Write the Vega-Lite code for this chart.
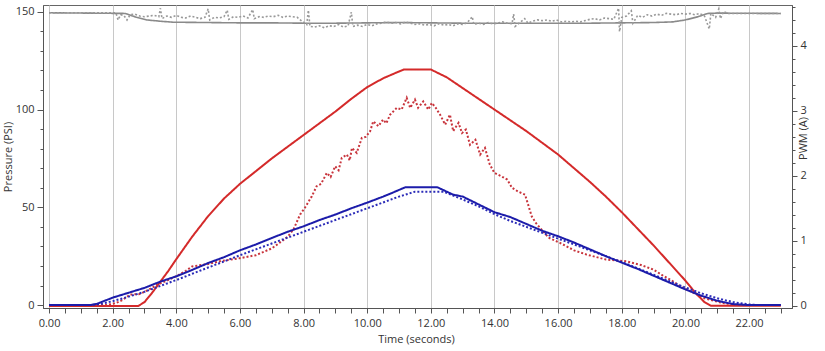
{
"$schema":"https://vega.github.io/schema/vega-lite/v6.json",
"width":749,"height":303,
"autosize":{"type":"none"},
"padding":{"left":43,"top":5,"right":33,"bottom":43},
"background":"white",
"config":{
 "view":{"stroke":"#666","strokeWidth":1},
 "axis":{"labelFont":"Open Sans","labelFontSize":11,"labelColor":"#333","titleFont":"Open Sans","titleFontSize":11,"titleFontWeight":"normal","titleColor":"#333","domainColor":"#555","tickColor":"#555","labelOverlap":false,"labelFlush":false}
},
"datasets":{
"pressure":[
{"s":"rs","t":0,"p":-0.5},{"s":"rs","t":2.8,"p":-0.5},{"s":"rs","t":3.0,"p":1.5},{"s":"rs","t":3.25,"p":6.5},{"s":"rs","t":3.5,"p":12},{"s":"rs","t":3.75,"p":17.5},{"s":"rs","t":4,"p":23.5},{"s":"rs","t":4.5,"p":35},{"s":"rs","t":5,"p":45.5},{"s":"rs","t":5.5,"p":54.5},{"s":"rs","t":6,"p":62},{"s":"rs","t":6.5,"p":68.5},{"s":"rs","t":7,"p":75},{"s":"rs","t":7.5,"p":81},{"s":"rs","t":8,"p":87},{"s":"rs","t":8.5,"p":93},{"s":"rs","t":9,"p":99},{"s":"rs","t":9.5,"p":105.5},{"s":"rs","t":10,"p":111.5},{"s":"rs","t":10.5,"p":116},{"s":"rs","t":11,"p":119.5},{"s":"rs","t":11.15,"p":120.5},{"s":"rs","t":12.0,"p":120.5},{"s":"rs","t":12.5,"p":116.5},{"s":"rs","t":13,"p":111},{"s":"rs","t":13.5,"p":105.5},{"s":"rs","t":14,"p":100},{"s":"rs","t":14.5,"p":94.5},{"s":"rs","t":15,"p":89},{"s":"rs","t":15.5,"p":83},{"s":"rs","t":16,"p":77},{"s":"rs","t":16.5,"p":70},{"s":"rs","t":17,"p":63},{"s":"rs","t":17.5,"p":55.5},{"s":"rs","t":18,"p":47.5},{"s":"rs","t":18.5,"p":39},{"s":"rs","t":19,"p":30.5},{"s":"rs","t":19.5,"p":21.5},{"s":"rs","t":20,"p":12.5},{"s":"rs","t":20.3,"p":6.5},{"s":"rs","t":20.6,"p":1.5},{"s":"rs","t":20.8,"p":-0.3},{"s":"rs","t":23,"p":-0.3},
{"s":"rd","t":0,"p":0},{"s":"rd","t":1.8,"p":0},{"s":"rd","t":2.1,"p":1},{"s":"rd","t":2.3,"p":2.5},{"s":"rd","t":2.55,"p":5.4},{"s":"rd","t":2.85,"p":5.6},{"s":"rd","t":3.15,"p":8},{"s":"rd","t":3.4,"p":10.5},{"s":"rd","t":3.7,"p":12.5},{"s":"rd","t":4,"p":14.8},{"s":"rd","t":4.3,"p":17.5},{"s":"rd","t":4.5,"p":19.8},{"s":"rd","t":4.8,"p":20.5},{"s":"rd","t":5.0,"p":21},{"s":"rd","t":5.4,"p":22.5},{"s":"rd","t":5.8,"p":23.5},{"s":"rd","t":6.0,"p":24},{"s":"rd","t":6.5,"p":25.5},{"s":"rd","t":7.0,"p":29},{"s":"rd","t":7.3,"p":32.5},{"s":"rd","t":7.5,"p":35},{"s":"rd","t":7.68,"p":38.6},{"s":"rd","t":7.89,"p":46.3},{"s":"rd","t":8.05,"p":50},{"s":"rd","t":8.26,"p":55.7},{"s":"rd","t":8.41,"p":60.8},{"s":"rd","t":8.55,"p":62},{"s":"rd","t":8.73,"p":67.6},{"s":"rd","t":8.85,"p":65.5},{"s":"rd","t":8.99,"p":71},{"s":"rd","t":9.1,"p":69},{"s":"rd","t":9.2,"p":75.3},{"s":"rd","t":9.36,"p":77},{"s":"rd","t":9.45,"p":74},{"s":"rd","t":9.52,"p":80.4},{"s":"rd","t":9.67,"p":77.9},{"s":"rd","t":9.83,"p":85.5},{"s":"rd","t":9.95,"p":86},{"s":"rd","t":10.09,"p":88.9},{"s":"rd","t":10.19,"p":94},{"s":"rd","t":10.35,"p":91.5},{"s":"rd","t":10.5,"p":94.9},{"s":"rd","t":10.6,"p":93},{"s":"rd","t":10.72,"p":97.4},{"s":"rd","t":10.93,"p":100.9},{"s":"rd","t":11.08,"p":100},{"s":"rd","t":11.24,"p":106},{"s":"rd","t":11.35,"p":100.9},{"s":"rd","t":11.5,"p":105.1},{"s":"rd","t":11.6,"p":100.9},{"s":"rd","t":11.76,"p":104.2},{"s":"rd","t":11.92,"p":100},{"s":"rd","t":12.03,"p":103.4},{"s":"rd","t":12.15,"p":101},{"s":"rd","t":12.29,"p":97.4},{"s":"rd","t":12.45,"p":92.3},{"s":"rd","t":12.6,"p":97.4},{"s":"rd","t":12.7,"p":89},{"s":"rd","t":12.87,"p":93.2},{"s":"rd","t":12.98,"p":88},{"s":"rd","t":13.1,"p":89.8},{"s":"rd","t":13.23,"p":82},{"s":"rd","t":13.4,"p":84.6},{"s":"rd","t":13.55,"p":77},{"s":"rd","t":13.7,"p":80.4},{"s":"rd","t":13.85,"p":72},{"s":"rd","t":14.0,"p":67.6},{"s":"rd","t":14.2,"p":66},{"s":"rd","t":14.4,"p":64.2},{"s":"rd","t":14.55,"p":60},{"s":"rd","t":14.75,"p":58},{"s":"rd","t":14.96,"p":56.5},{"s":"rd","t":15.17,"p":45.4},{"s":"rd","t":15.3,"p":42},{"s":"rd","t":15.48,"p":38.6},{"s":"rd","t":15.7,"p":34.5},{"s":"rd","t":16.06,"p":31.8},{"s":"rd","t":16.5,"p":28},{"s":"rd","t":16.9,"p":25.8},{"s":"rd","t":17.5,"p":23.3},{"s":"rd","t":18.15,"p":22.4},{"s":"rd","t":18.6,"p":20.5},{"s":"rd","t":18.99,"p":18.2},{"s":"rd","t":19.3,"p":15},{"s":"rd","t":19.6,"p":12.2},{"s":"rd","t":19.9,"p":9},{"s":"rd","t":20.24,"p":6.4},{"s":"rd","t":20.6,"p":3.5},{"s":"rd","t":21.1,"p":1.3},{"s":"rd","t":21.5,"p":0.2},{"s":"rd","t":21.7,"p":0},{"s":"rd","t":23,"p":0},
{"s":"bd","t":0,"p":0},{"s":"bd","t":1.3,"p":0},{"s":"bd","t":1.6,"p":0.5},{"s":"bd","t":2,"p":2},{"s":"bd","t":2.5,"p":4.3},{"s":"bd","t":3,"p":6.8},{"s":"bd","t":3.5,"p":9.8},{"s":"bd","t":4,"p":12.8},{"s":"bd","t":4.5,"p":16},{"s":"bd","t":5,"p":19.2},{"s":"bd","t":5.5,"p":22.3},{"s":"bd","t":6,"p":25.5},{"s":"bd","t":6.5,"p":28.5},{"s":"bd","t":7,"p":31.5},{"s":"bd","t":7.5,"p":34.5},{"s":"bd","t":8,"p":37.5},{"s":"bd","t":8.5,"p":40.5},{"s":"bd","t":9,"p":43.5},{"s":"bd","t":9.5,"p":46.5},{"s":"bd","t":10,"p":49.5},{"s":"bd","t":10.5,"p":52.5},{"s":"bd","t":11,"p":55.5},{"s":"bd","t":11.5,"p":58},{"s":"bd","t":12.4,"p":58},{"s":"bd","t":13,"p":54},{"s":"bd","t":13.5,"p":50.5},{"s":"bd","t":14,"p":46.5},{"s":"bd","t":14.5,"p":43},{"s":"bd","t":15,"p":40},{"s":"bd","t":15.5,"p":37},{"s":"bd","t":16,"p":34},{"s":"bd","t":16.5,"p":31},{"s":"bd","t":17,"p":28},{"s":"bd","t":17.5,"p":25},{"s":"bd","t":18,"p":22},{"s":"bd","t":18.5,"p":18.8},{"s":"bd","t":19,"p":15.5},{"s":"bd","t":19.5,"p":12.2},{"s":"bd","t":20,"p":9},{"s":"bd","t":20.5,"p":6},{"s":"bd","t":21,"p":3.5},{"s":"bd","t":21.5,"p":1.5},{"s":"bd","t":22,"p":0.3},{"s":"bd","t":22.3,"p":0},{"s":"bd","t":23,"p":0},
{"s":"bs","t":0,"p":0},{"s":"bs","t":1.3,"p":0},{"s":"bs","t":1.5,"p":0.6},{"s":"bs","t":2,"p":3.8},{"s":"bs","t":2.5,"p":6.3},{"s":"bs","t":3,"p":8.8},{"s":"bs","t":3.5,"p":12},{"s":"bs","t":4,"p":14.7},{"s":"bs","t":4.5,"p":18},{"s":"bs","t":5,"p":21.5},{"s":"bs","t":5.5,"p":24.5},{"s":"bs","t":6,"p":28},{"s":"bs","t":6.5,"p":31},{"s":"bs","t":7,"p":34.3},{"s":"bs","t":7.5,"p":37.5},{"s":"bs","t":8,"p":40.3},{"s":"bs","t":8.5,"p":43.5},{"s":"bs","t":9,"p":46.3},{"s":"bs","t":9.5,"p":49.5},{"s":"bs","t":10,"p":52.4},{"s":"bs","t":10.5,"p":55.5},{"s":"bs","t":10.8,"p":57.5},{"s":"bs","t":11.2,"p":60.3},{"s":"bs","t":12.2,"p":60.3},{"s":"bs","t":12.5,"p":58},{"s":"bs","t":12.7,"p":56.5},{"s":"bs","t":13,"p":55.5},{"s":"bs","t":13.5,"p":51.5},{"s":"bs","t":14,"p":47.5},{"s":"bs","t":14.5,"p":45},{"s":"bs","t":15,"p":41.5},{"s":"bs","t":15.5,"p":38},{"s":"bs","t":16,"p":35.2},{"s":"bs","t":16.5,"p":32},{"s":"bs","t":17,"p":28.5},{"s":"bs","t":17.5,"p":25},{"s":"bs","t":18,"p":21.7},{"s":"bs","t":18.5,"p":18.5},{"s":"bs","t":19,"p":15},{"s":"bs","t":19.5,"p":11.5},{"s":"bs","t":20,"p":8},{"s":"bs","t":20.5,"p":4.8},{"s":"bs","t":21,"p":2.2},{"s":"bs","t":21.5,"p":0.5},{"s":"bs","t":22,"p":0},{"s":"bs","t":23,"p":0}
],
"pwm":[
{"s":"gs","t":0,"a":4.51},{"s":"gs","t":2.4,"a":4.50},{"s":"gs","t":2.75,"a":4.44},{"s":"gs","t":3.07,"a":4.40},{"s":"gs","t":3.5,"a":4.38},{"s":"gs","t":3.9,"a":4.365},{"s":"gs","t":5,"a":4.36},{"s":"gs","t":6,"a":4.355},{"s":"gs","t":7,"a":4.355},{"s":"gs","t":8,"a":4.35},{"s":"gs","t":9,"a":4.35},{"s":"gs","t":10,"a":4.355},{"s":"gs","t":11,"a":4.36},{"s":"gs","t":12,"a":4.355},{"s":"gs","t":13,"a":4.35},{"s":"gs","t":14,"a":4.35},{"s":"gs","t":15,"a":4.35},{"s":"gs","t":16,"a":4.35},{"s":"gs","t":17,"a":4.35},{"s":"gs","t":18,"a":4.355},{"s":"gs","t":19,"a":4.36},{"s":"gs","t":19.6,"a":4.37},{"s":"gs","t":20,"a":4.40},{"s":"gs","t":20.4,"a":4.45},{"s":"gs","t":20.7,"a":4.50},{"s":"gs","t":21,"a":4.505},{"s":"gs","t":23,"a":4.50},
{"s":"gd","t":0,"a":4.51},{"s":"gd","t":2.1,"a":4.51},{"s":"gd","t":2.17,"a":4.40},{"s":"gd","t":2.25,"a":4.48},{"s":"gd","t":2.35,"a":4.47},{"s":"gd","t":2.45,"a":4.40},{"s":"gd","t":2.55,"a":4.48},{"s":"gd","t":2.7,"a":4.49},{"s":"gd","t":2.85,"a":4.46},{"s":"gd","t":3.0,"a":4.45},{"s":"gd","t":3.15,"a":4.46},{"s":"gd","t":3.3,"a":4.47},{"s":"gd","t":3.45,"a":4.45},{"s":"gd","t":3.5,"a":4.58},{"s":"gd","t":3.55,"a":4.42},{"s":"gd","t":3.7,"a":4.46},{"s":"gd","t":3.85,"a":4.44},{"s":"gd","t":4.0,"a":4.47},{"s":"gd","t":4.15,"a":4.44},{"s":"gd","t":4.3,"a":4.43},{"s":"gd","t":4.45,"a":4.46},{"s":"gd","t":4.6,"a":4.44},{"s":"gd","t":4.75,"a":4.42},{"s":"gd","t":4.9,"a":4.44},{"s":"gd","t":5.0,"a":4.57},{"s":"gd","t":5.05,"a":4.40},{"s":"gd","t":5.2,"a":4.44},{"s":"gd","t":5.35,"a":4.43},{"s":"gd","t":5.5,"a":4.45},{"s":"gd","t":5.6,"a":4.55},{"s":"gd","t":5.65,"a":4.41},{"s":"gd","t":5.8,"a":4.45},{"s":"gd","t":5.95,"a":4.44},{"s":"gd","t":6.1,"a":4.46},{"s":"gd","t":6.25,"a":4.43},{"s":"gd","t":6.4,"a":4.56},{"s":"gd","t":6.45,"a":4.42},{"s":"gd","t":6.6,"a":4.45},{"s":"gd","t":6.75,"a":4.44},{"s":"gd","t":6.9,"a":4.46},{"s":"gd","t":7.05,"a":4.45},{"s":"gd","t":7.2,"a":4.47},{"s":"gd","t":7.35,"a":4.44},{"s":"gd","t":7.5,"a":4.46},{"s":"gd","t":7.65,"a":4.45},{"s":"gd","t":7.8,"a":4.44},{"s":"gd","t":7.95,"a":4.38},{"s":"gd","t":8.1,"a":4.33},{"s":"gd","t":8.15,"a":4.55},{"s":"gd","t":8.2,"a":4.30},{"s":"gd","t":8.35,"a":4.29},{"s":"gd","t":8.5,"a":4.31},{"s":"gd","t":8.65,"a":4.28},{"s":"gd","t":8.8,"a":4.31},{"s":"gd","t":8.95,"a":4.30},{"s":"gd","t":9.1,"a":4.33},{"s":"gd","t":9.25,"a":4.29},{"s":"gd","t":9.4,"a":4.31},{"s":"gd","t":9.5,"a":4.52},{"s":"gd","t":9.55,"a":4.30},{"s":"gd","t":9.7,"a":4.32},{"s":"gd","t":9.85,"a":4.30},{"s":"gd","t":10.0,"a":4.33},{"s":"gd","t":10.15,"a":4.31},{"s":"gd","t":10.3,"a":4.34},{"s":"gd","t":10.45,"a":4.35},{"s":"gd","t":10.6,"a":4.37},{"s":"gd","t":10.75,"a":4.35},{"s":"gd","t":10.9,"a":4.36},{"s":"gd","t":11.05,"a":4.34},{"s":"gd","t":11.2,"a":4.37},{"s":"gd","t":11.35,"a":4.35},{"s":"gd","t":11.5,"a":4.33},{"s":"gd","t":11.65,"a":4.34},{"s":"gd","t":11.8,"a":4.32},{"s":"gd","t":11.95,"a":4.33},{"s":"gd","t":12.1,"a":4.31},{"s":"gd","t":12.25,"a":4.34},{"s":"gd","t":12.4,"a":4.32},{"s":"gd","t":12.55,"a":4.33},{"s":"gd","t":12.7,"a":4.31},{"s":"gd","t":12.85,"a":4.34},{"s":"gd","t":13.0,"a":4.33},{"s":"gd","t":13.15,"a":4.36},{"s":"gd","t":13.3,"a":4.45},{"s":"gd","t":13.35,"a":4.33},{"s":"gd","t":13.5,"a":4.35},{"s":"gd","t":13.65,"a":4.33},{"s":"gd","t":13.8,"a":4.36},{"s":"gd","t":13.95,"a":4.34},{"s":"gd","t":14.1,"a":4.35},{"s":"gd","t":14.25,"a":4.37},{"s":"gd","t":14.4,"a":4.35},{"s":"gd","t":14.55,"a":4.34},{"s":"gd","t":14.6,"a":4.49},{"s":"gd","t":14.65,"a":4.30},{"s":"gd","t":14.8,"a":4.36},{"s":"gd","t":14.95,"a":4.42},{"s":"gd","t":15.05,"a":4.35},{"s":"gd","t":15.2,"a":4.38},{"s":"gd","t":15.35,"a":4.40},{"s":"gd","t":15.5,"a":4.39},{"s":"gd","t":15.65,"a":4.40},{"s":"gd","t":15.8,"a":4.38},{"s":"gd","t":15.95,"a":4.40},{"s":"gd","t":16.1,"a":4.37},{"s":"gd","t":16.25,"a":4.38},{"s":"gd","t":16.4,"a":4.37},{"s":"gd","t":16.55,"a":4.38},{"s":"gd","t":16.7,"a":4.37},{"s":"gd","t":16.85,"a":4.39},{"s":"gd","t":17.0,"a":4.41},{"s":"gd","t":17.15,"a":4.42},{"s":"gd","t":17.3,"a":4.40},{"s":"gd","t":17.45,"a":4.43},{"s":"gd","t":17.6,"a":4.42},{"s":"gd","t":17.75,"a":4.41},{"s":"gd","t":17.9,"a":4.58},{"s":"gd","t":17.93,"a":4.22},{"s":"gd","t":18.0,"a":4.44},{"s":"gd","t":18.15,"a":4.46},{"s":"gd","t":18.3,"a":4.54},{"s":"gd","t":18.35,"a":4.35},{"s":"gd","t":18.5,"a":4.47},{"s":"gd","t":18.65,"a":4.44},{"s":"gd","t":18.8,"a":4.48},{"s":"gd","t":18.95,"a":4.46},{"s":"gd","t":19.1,"a":4.49},{"s":"gd","t":19.25,"a":4.47},{"s":"gd","t":19.4,"a":4.50},{"s":"gd","t":19.55,"a":4.49},{"s":"gd","t":19.7,"a":4.48},{"s":"gd","t":19.85,"a":4.50},{"s":"gd","t":20.0,"a":4.49},{"s":"gd","t":20.15,"a":4.50},{"s":"gd","t":20.3,"a":4.48},{"s":"gd","t":20.45,"a":4.50},{"s":"gd","t":20.6,"a":4.46},{"s":"gd","t":20.75,"a":4.26},{"s":"gd","t":20.8,"a":4.50},{"s":"gd","t":20.95,"a":4.44},{"s":"gd","t":21.05,"a":4.57},{"s":"gd","t":21.1,"a":4.42},{"s":"gd","t":21.2,"a":4.53},{"s":"gd","t":21.35,"a":4.50},{"s":"gd","t":23.0,"a":4.50}
]
},
"encoding":{
 "x":{"field":"t","type":"quantitative","scale":{"domain":[-0.19,23.35],"nice":false,"zero":false},
  "axis":{"title":"Time (seconds)","values":[0,0.5,1,1.5,2,2.5,3,3.5,4,4.5,5,5.5,6,6.5,7,7.5,8,8.5,9,9.5,10,10.5,11,11.5,12,12.5,13,13.5,14,14.5,15,15.5,16,16.5,17,17.5,18,18.5,19,19.5,20,20.5,21,21.5,22,22.5,23],
   "labelExpr":"datum.value % 2 === 0 ? format(datum.value, '.2f') : ''",
   "tickSize":5,"labelPadding":4,"titlePadding":5,"titleX":373,
   "grid":true,"gridColor":"#c8c8c8","gridOpacity":{"condition":{"test":"datum.value % 2 === 0","value":1},"value":0}}}
},
"layer":[
 {"data":{"name":"pressure"},"mark":{"type":"line","strokeWidth":2,"clip":true},
  "encoding":{
   "y":{"field":"p","type":"quantitative","scale":{"domain":[-1.5,153.5],"nice":false,"zero":false},
    "axis":{"orient":"left","title":"Pressure (PSI)","values":[0,10,20,30,40,50,60,70,80,90,100,110,120,130,140,150],
     "labelExpr":"datum.value % 50 === 0 ? datum.value : ''",
     "tickSize":{"condition":{"test":"datum.value % 50 === 0","value":6},"value":3},
     "labelPadding":3,"titlePadding":2,"grid":false}},
   "color":{"field":"s","type":"nominal","scale":{"domain":["rd","bd","rs","bs"],"range":["#c8343c","#2b2bb8","#d42a2a","#1c1caa"]},"legend":null},
   "strokeDash":{"field":"s","type":"nominal","scale":{"domain":["rd","bd","rs","bs"],"range":[[2,2],[2,2],[1,0],[1,0]]},"legend":null}
  }},
 {"data":{"name":"pwm"},"mark":{"type":"line","strokeWidth":1.6,"clip":true},
  "encoding":{
   "y":{"field":"a","type":"quantitative","scale":{"domain":[-0.035,4.63],"nice":false,"zero":false},
    "axis":{"orient":"right","title":"PWM (A)","titleAngle":-90,"titleY":133,"values":[0,0.2,0.4,0.6,0.8,1,1.2,1.4,1.6,1.8,2,2.2,2.4,2.6,2.8,3,3.2,3.4,3.6,3.8,4,4.2,4.4,4.6],
     "labelExpr":"abs(datum.value - round(datum.value)) < 0.001 ? format(datum.value, 'd') : ''",
     "tickSize":{"condition":{"test":"abs(datum.value - round(datum.value)) < 0.001","value":5},"value":3},
     "labelPadding":3,"titlePadding":2,"grid":false}},
   "color":{"field":"s","type":"nominal","scale":{"domain":["gd","gs"],"range":["#999999","#8a8a8a"]},"legend":null},
   "strokeDash":{"field":"s","type":"nominal","scale":{"domain":["gd","gs"],"range":[[2,2],[1,0]]},"legend":null}
  }}
],
"resolve":{"scale":{"y":"independent","color":"independent","strokeDash":"independent"}}
}
